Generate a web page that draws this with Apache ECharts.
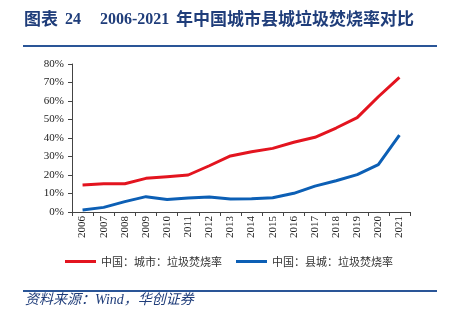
<!DOCTYPE html>
<html>
<head>
<meta charset="utf-8">
<script src="https://cdn.jsdelivr.net/npm/echarts@6/dist/echarts.min.js"></script>
<style>
  html, body { margin: 0; padding: 0; background: #fff; }
  #chart { width: 458px; height: 323px; }
</style>
</head>
<body>
<div id="chart"></div>
<script>
// Years on the category axis
const years = ['2006','2007','2008','2009','2010','2011','2012','2013','2014','2015','2016','2017','2018','2019','2020','2021'];
// Incineration rate of municipal waste, cities (%)
const cityRate = [14.6, 15.3, 15.3, 18.2, 19.1, 20.0, 25.0, 30.3, 32.6, 34.4, 37.7, 40.4, 45.4, 51.0, 62.3, 72.8];
// Incineration rate of municipal waste, county towns (%)
const countyRate = [1.1, 2.5, 5.6, 8.3, 6.8, 7.6, 8.1, 7.0, 7.2, 7.7, 10.1, 14.0, 16.9, 20.2, 25.6, 41.6];
const seriesNames = ['中国：城市：垃圾焚烧率', '中国：县城：垃圾焚烧率'];

const serif = '"Liberation Serif", "Times New Roman", "Noto Sans CJK SC", serif';
const navy = '#1f3d7a';
const titleFont = (px) => 'bold ' + px + 'px "Liberation Serif", "Noto Sans CJK SC", serif';

const chart = echarts.init(document.getElementById('chart'), null, { renderer: 'canvas' });
chart.setOption({
  animation: false,
  backgroundColor: '#fff',
  grid: { left: 72, right: 48, top: 64, bottom: 111, containLabel: false },
  legend: {
    bottom: 51,
    left: 'center',
    itemWidth: 31,
    itemHeight: 3,
    itemGap: 14,
    icon: 'rect',
    textStyle: { fontFamily: '"Noto Sans CJK SC", sans-serif', fontSize: 11, color: '#333' },
    data: seriesNames
  },
  xAxis: {
    type: 'category',
    data: years,
    boundaryGap: true,
    axisLine: { lineStyle: { color: '#444', width: 1 } },
    axisTick: { show: true, length: 4, alignWithLabel: false, lineStyle: { color: '#444' } },
    axisLabel: { rotate: 90, interval: 0, margin: 4, fontFamily: serif, fontSize: 11, color: '#222' }
  },
  yAxis: {
    type: 'value',
    min: 0,
    max: 80,
    interval: 10,
    axisLine: { show: true, lineStyle: { color: '#444', width: 1 } },
    axisTick: { show: true, length: 4, lineStyle: { color: '#444' } },
    splitLine: { show: false },
    axisLabel: { formatter: '{value}%', margin: 8, fontFamily: serif, fontSize: 11, color: '#222' }
  },
  series: [
    {
      name: seriesNames[0],
      type: 'line',
      data: cityRate,
      symbol: 'none',
      color: '#e3141f',
      lineStyle: { width: 3, color: '#e3141f' }
    },
    {
      name: seriesNames[1],
      type: 'line',
      data: countyRate,
      symbol: 'none',
      color: '#0c5fb5',
      lineStyle: { width: 3, color: '#0c5fb5' }
    }
  ],
  graphic: [
    { type: 'text', left: 24, top: 12, style: { text: '图表', font: titleFont(17), fill: navy } },
    { type: 'text', left: 65, top: 12, style: { text: '24', font: titleFont(16), fill: navy } },
    { type: 'text', left: 100, top: 12, style: { text: '2006-2021', font: titleFont(16), fill: navy } },
    { type: 'text', left: 176, top: 12, style: { text: '年中国城市县城垃圾焚烧率对比', font: titleFont(17), fill: navy } },
    { type: 'rect', shape: { x: 23, y: 45, width: 414, height: 2 }, style: { fill: '#2a5597' } },
    { type: 'rect', shape: { x: 23, y: 290, width: 414, height: 2 }, style: { fill: '#2a5597' } },
    {
      type: 'text', left: 25, top: 293,
      style: { text: '资料来源：Wind，华创证券', font: 'italic 14px "Liberation Serif", "Noto Sans CJK SC", serif', fill: navy }
    }
  ]
});
</script>
</body>
</html>
